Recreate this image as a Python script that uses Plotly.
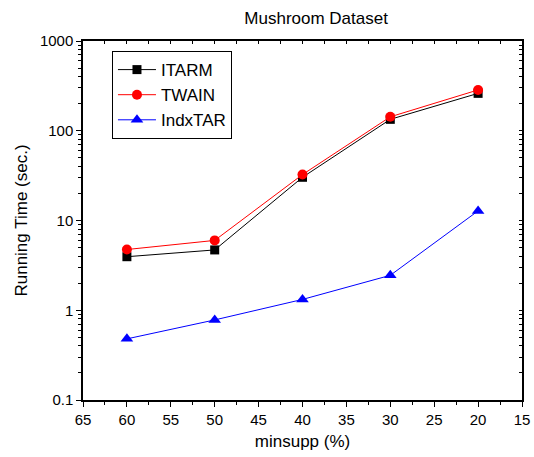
import plotly.graph_objects as go

minsupp = [60, 50, 40, 30, 20]
itarm = [3.95, 4.7, 30.3, 134, 261]
twain = [4.75, 6.0, 32.5, 143, 285]
indxtar = [0.48, 0.78, 1.32, 2.45, 12.8]

x_ticks = [65, 60, 55, 50, 45, 40, 35, 30, 25, 20, 15]
y_ticks = [0.1, 1, 10, 100, 1000]
y_ticklabels = ["0.1", "1", "10", "100", "1000"]

font_family = "Liberation Sans, Arial, sans-serif"

y_minor = [k * d for d in [0.1, 1, 10, 100] for k in range(2, 10)]
x_minor = [v + 2.5 for v in x_ticks[1:]]

fig = go.Figure()
fig.add_trace(go.Scatter(
    x=minsupp, y=itarm, name="ITARM", mode="lines+markers",
    line=dict(color="black", width=1),
    marker=dict(symbol="square", size=9, color="black"),
))
fig.add_trace(go.Scatter(
    x=minsupp, y=twain, name="TWAIN", mode="lines+markers",
    line=dict(color="red", width=1),
    marker=dict(symbol="circle", size=10, color="red"),
))
fig.add_trace(go.Scatter(
    x=minsupp, y=indxtar, name="IndxTAR", mode="lines+markers",
    line=dict(color="blue", width=1),
    marker=dict(symbol="triangle-up", size=11, color="blue"),
))
# invisible trace to activate the mirrored top/right axes
fig.add_trace(go.Scatter(
    x=minsupp, y=indxtar, xaxis="x2", yaxis="y2", mode="lines",
    opacity=0, showlegend=False, hoverinfo="skip",
))

common_range_x = [65, 15]
common_range_y = [-1, 3]

fig.update_layout(
    width=534, height=457,
    margin=dict(l=83, r=12, t=41, b=57, autoexpand=False),
    paper_bgcolor="white", plot_bgcolor="white",
    font=dict(family=font_family, size=15, color="black"),
    title=dict(text="Mushroom Dataset", x=0.592, xanchor="center",
               y=0.961, yanchor="middle", font=dict(size=17)),
    showlegend=True,
    legend=dict(
        x=0.066, y=0.972, xanchor="left", yanchor="top",
        bordercolor="black", borderwidth=1, bgcolor="white",
        font=dict(size=17), tracegroupgap=0, itemwidth=38,
    ),
    xaxis=dict(
        range=common_range_x, tickvals=x_ticks,
        ticktext=[str(v) for v in x_ticks], automargin=False,
        showgrid=False, zeroline=False,
        showline=True, linecolor="black", linewidth=1.5,
        ticks="outside", ticklen=5, tickwidth=1, tickcolor="black",
        tickfont=dict(size=15),
        minor=dict(tickvals=x_minor, ticks="outside", ticklen=3,
                   tickcolor="black", showgrid=False),
        title=dict(text="minsupp (%)", font=dict(size=17), standoff=8),
    ),
    yaxis=dict(
        type="log", range=common_range_y, automargin=False,
        tickvals=y_ticks, ticktext=y_ticklabels,
        showgrid=False, zeroline=False,
        showline=True, linecolor="black", linewidth=1.5,
        ticks="outside", ticklen=5, tickwidth=1, tickcolor="black",
        tickfont=dict(size=15),
        minor=dict(tickvals=y_minor, ticks="outside", ticklen=3,
                   tickcolor="black", showgrid=False),
        title=dict(text="Running Time (sec.)", font=dict(size=17), standoff=8),
    ),
    xaxis2=dict(
        overlaying="x", side="top", anchor="y", range=common_range_x,
        tickvals=x_ticks + x_minor, showticklabels=False, automargin=False,
        showgrid=False, zeroline=False,
        showline=True, linecolor="black", linewidth=1.5,
        ticks="inside", ticklen=3, tickcolor="black",
    ),
    yaxis2=dict(
        overlaying="y", side="right", anchor="x", type="log",
        range=common_range_y, automargin=False,
        tickvals=y_ticks + y_minor, showticklabels=False,
        showgrid=False, zeroline=False,
        showline=True, linecolor="black", linewidth=1.5,
        ticks="inside", ticklen=3, tickcolor="black",
    ),
)

fig.write_html("out.html", config={"displayModeBar": False},
               post_script="document.body.style.margin='0px';")
